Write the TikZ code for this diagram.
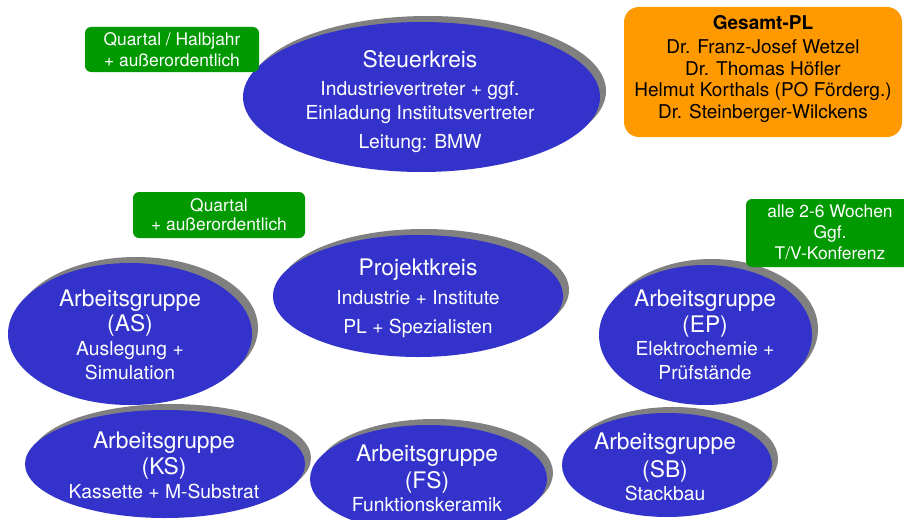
\documentclass[tikz,border=0pt]{standalone}
\usepackage{fontspec}
\setmainfont{TeX Gyre Heros}
\usetikzlibrary{shapes.geometric,shadows}
\definecolor{blobblue}{RGB}{51,51,204}
\definecolor{shgray}{RGB}{128,128,128}
\definecolor{grn}{RGB}{0,153,0}
\definecolor{org}{RGB}{255,153,0}
\begin{document}
\begin{tikzpicture}[x=1pt,y=-1pt,
  blob/.style={ellipse, fill=blobblue, draw=none, inner sep=0pt,
    drop shadow={shadow xshift=6pt, shadow yshift=6pt, fill=shgray, opacity=1}},
  gbox/.style={rectangle, rounded corners=6pt, fill=grn, draw=none, inner sep=0pt},
  obox/.style={rectangle, rounded corners=15pt, fill=org, draw=none, inner sep=0pt},
  ttl/.style={anchor=mid, inner sep=0pt, yshift=-2pt, text=white, font=\fontsize{22.8}{22.8}\selectfont},
  sub/.style={anchor=mid, inner sep=0pt, yshift=-2pt, text=white, font=\fontsize{19.3}{19.3}\selectfont},
  gtx/.style={anchor=mid, inner sep=0pt, yshift=-1pt, text=white, font=\fontsize{17.4}{17.4}\selectfont},
  otx/.style={anchor=mid, inner sep=0pt, yshift=-1pt, text=black, font=\fontsize{19}{19}\selectfont}]
\useasboundingbox (0,0) rectangle (904,519);
\clip (0,0) rectangle (904,519);

% Ellipses
\node[blob, minimum width=357pt, minimum height=150pt] (sk) at (421.5,97) {};
\node[blob, minimum width=290pt, minimum height=122pt] (pk) at (418,296) {};
\node[blob, minimum width=244pt, minimum height=142pt] (as) at (130,334) {};
\node[blob, minimum width=213pt, minimum height=140pt] (ep) at (705.5,335) {};
\node[blob, minimum width=280pt, minimum height=108pt] (ks) at (165,464) {};
\node[blob, minimum width=237pt, minimum height=108pt] (fs) at (428.5,479) {};
\node[blob, minimum width=210pt, minimum height=104pt] (sb) at (667,465) {};

% Steuerkreis
\node[ttl] (sk1) at (420,63) {Steuerkreis};
\node[sub] (sk2) at (420,91) {Industrievertreter + ggf.};
\node[sub] (sk3) at (420,115) {Einladung Institutsvertreter};
\node[sub] (sk4) at (420,144) {Leitung: BMW};

% Projektkreis
\node[ttl] (pk1) at (418,271) {Projektkreis};
\node[sub] (pk2) at (418,300) {Industrie + Institute};
\node[sub] (pk3) at (418,329) {PL + Spezialisten};

% AS
\node[ttl] (as1) at (130,302) {Arbeitsgruppe};
\node[ttl] (as2) at (130,327) {(AS)};
\node[sub] (as3) at (130,351) {Auslegung +};
\node[sub] (as4) at (130,375) {Simulation};

% EP
\node[ttl] (ep1) at (705,302) {Arbeitsgruppe};
\node[ttl] (ep2) at (705,328) {(EP)};
\node[sub] (ep3) at (705,351) {Elektrochemie +};
\node[sub] (ep4) at (705,375) {Prüfstände};

% KS
\node[ttl] (ks1) at (164,444) {Arbeitsgruppe};
\node[ttl] (ks2) at (164,470) {(KS)};
\node[sub] (ks3) at (164,494) {Kassette + M-Substrat};

% FS
\node[ttl] (fs1) at (427,457) {Arbeitsgruppe};
\node[ttl] (fs2) at (427,484) {(FS)};
\node[sub] (fs3) at (427,507) {Funktionskeramik};

% SB
\node[ttl] (sb1) at (665,445) {Arbeitsgruppe};
\node[ttl] (sb2) at (665,473) {(SB)};
\node[sub] (sb3) at (665,496) {Stackbau};

% Green boxes
\node[gbox, minimum width=174pt, minimum height=45pt] (g1) at (172,49.5) {};
\node[gtx] (g1a) at (172,42) {Quartal / Halbjahr};
\node[gtx] (g1b) at (172,63) {+ außerordentlich};

\node[gbox, minimum width=172pt, minimum height=46pt] (g2) at (219,215) {};
\node[gtx] (g2a) at (219,208) {Quartal};
\node[gtx] (g2b) at (219,227) {+ außerordentlich};

\node[gbox, minimum width=170pt, minimum height=68pt] (g3) at (831,233) {};
\node[gtx] (g3a) at (830,214) {alle 2-6 Wochen};
\node[gtx] (g3b) at (830,235) {Ggf.};
\node[gtx] (g3c) at (830,256) {T/V-Konferenz};

% Orange box
\node[obox, minimum width=278pt, minimum height=130pt] (o) at (763,72) {};
\node[otx, font=\fontsize{19}{19}\selectfont\bfseries] (o1) at (763,26) {Gesamt-PL};
\node[otx] (o2) at (763,50) {Dr. Franz-Josef Wetzel};
\node[otx] (o3) at (763,72) {Dr. Thomas Höfler};
\node[otx] (o4) at (763,93) {Helmut Korthals (PO Förderg.)};
\node[otx] (o5) at (763,115) {Dr. Steinberger-Wilckens};
\end{tikzpicture}
\end{document}
